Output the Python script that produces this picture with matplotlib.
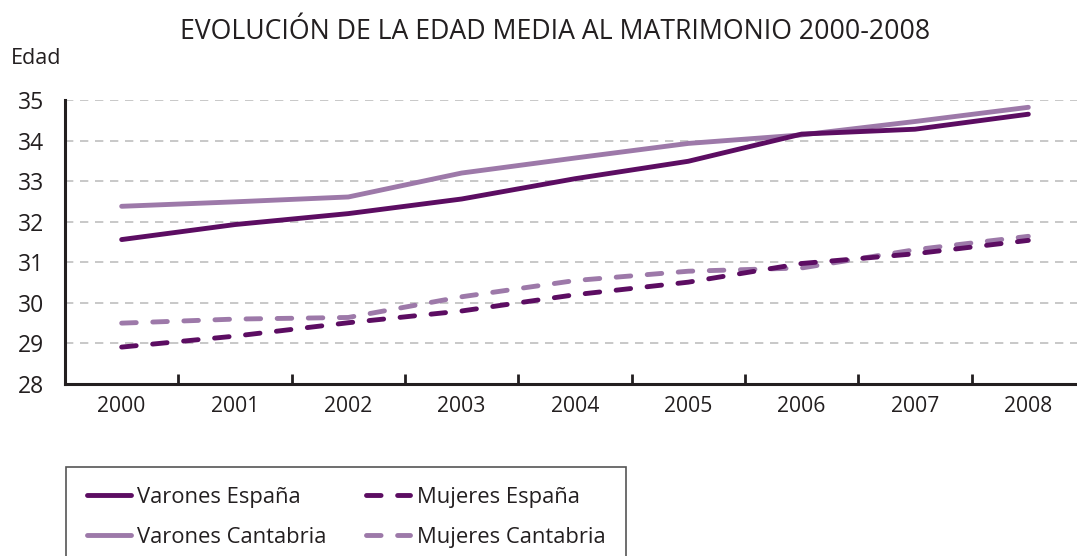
import matplotlib
matplotlib.use("Agg")
import matplotlib.pyplot as plt
from matplotlib.ticker import FixedLocator
from matplotlib.patches import Rectangle

years = ["2000", "2001", "2002", "2003", "2004", "2005", "2006", "2007", "2008"]
varones_espana = [31.56, 31.93, 32.20, 32.56, 33.06, 33.49, 34.16, 34.28, 34.65]
varones_cantabria = [32.38, 32.49, 32.61, 33.20, 33.57, 33.93, 34.14, 34.47, 34.82]
mujeres_espana = [28.91, 29.18, 29.51, 29.80, 30.20, 30.51, 30.97, 31.21, 31.54]
mujeres_cantabria = [29.50, 29.60, 29.64, 30.15, 30.55, 30.78, 30.86, 31.31, 31.64]

dark = "#5c0d62"
light = "#9d79a9"
txt = "#231f20"

plt.rcParams['font.family'] = ['Open Sans', 'DejaVu Sans']

W, H = 1077, 556
fig = plt.figure(figsize=(W/100, H/100), dpi=100)
# axes extends slightly beyond right figure edge, as in the reference
ax = fig.add_axes([65/W, 1-384/H, 1020/W, (384-100)/H])

x = list(range(len(years)))
lw = 3.5
dash = (0, (3, 3.4))
ax.plot(x, varones_cantabria, color=light, lw=lw, label="Varones Cantabria", solid_capstyle='round', zorder=2)
ax.plot(x, mujeres_cantabria, color=light, lw=lw, ls=dash, label="Mujeres Cantabria", dash_capstyle='round', zorder=2)
ax.plot(x, varones_espana, color=dark, lw=lw, label="Varones España", solid_capstyle='round', zorder=3)
ax.plot(x, mujeres_espana, color=dark, lw=lw, ls=dash, label="Mujeres España", dash_capstyle='round', zorder=3)

ax.set_xlim(-0.5, len(years) - 0.5)
ax.set_ylim(28, 35)
ax.set_yticks(range(28, 36))
ax.set_xticks(x)
ax.set_xticklabels(years)
ax.xaxis.set_minor_locator(FixedLocator([i + 0.5 for i in range(len(years) - 1)]))
ax.tick_params(axis='x', which='major', length=0, labelsize=15.2, labelcolor=txt, pad=9)
ax.tick_params(axis='x', which='minor', length=7, width=2, direction='in', color=txt)
ax.tick_params(axis='y', length=0, labelsize=16.5, labelcolor=txt, pad=15)
ax.grid(axis='y', color='#bfbfbf', ls=(0, (5, 4)), lw=1.2)
ax.set_axisbelow(True)
for s in ['top', 'right']:
    ax.spines[s].set_visible(False)
for s in ['left', 'bottom']:
    ax.spines[s].set_linewidth(2.2)
    ax.spines[s].set_color(txt)

fig.text(555/W, 1-32/H, "EVOLUCIÓN DE LA EDAD MEDIA AL MATRIMONIO 2000-2008",
         ha='center', va='center', fontsize=19.2, color=txt)
fig.text(11/W, 1-58/H, "Edad", ha='left', va='center', fontsize=15.5, color=txt)

# legend frame
fig.patches.append(Rectangle((66/W, -0.05), (626-66)/W, 0.05 + (H-467)/H,
                             transform=fig.transFigure, fill=False,
                             edgecolor='#555555', lw=1.2, zorder=1))

handles, labels = ax.get_legend_handles_labels()
hmap = dict(zip(labels, handles))
order = ["Varones España", "Varones Cantabria", "Mujeres España", "Mujeres Cantabria"]
leg = fig.legend([hmap[k] for k in order], order,
                 loc='upper left', bbox_to_anchor=(87/W, 1-487/H), ncol=2,
                 borderaxespad=0, borderpad=0, fontsize=15.8, frameon=False,
                 handlelength=2.0, handletextpad=0.3,
                 columnspacing=1.8, labelspacing=0.85, labelcolor=txt)

fig.savefig("out.png", dpi=100)
